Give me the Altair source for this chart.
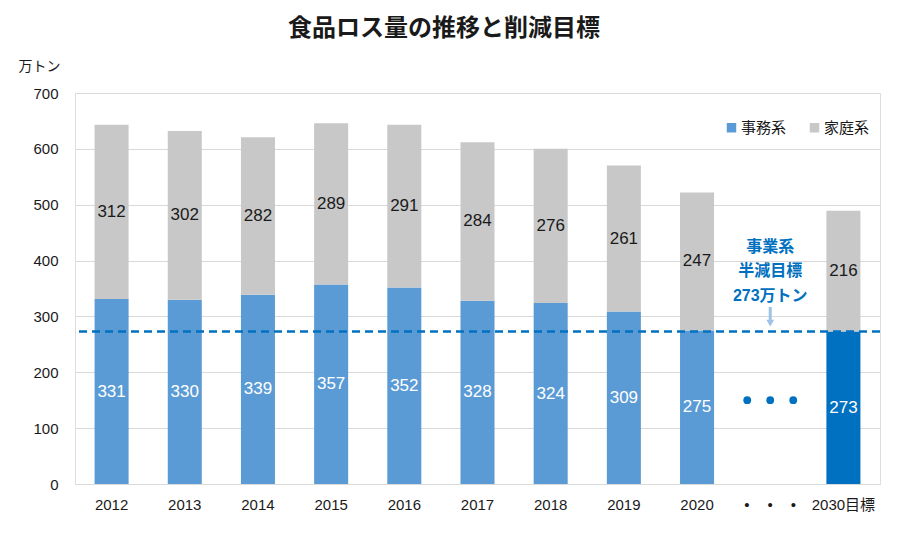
import altair as alt
import pandas as pd

# ---- data ----
categories = ["2012", "2013", "2014", "2015", "2016", "2017", "2018", "2019", "2020", "gap", "2030目標"]
bar_cats = ["2012", "2013", "2014", "2015", "2016", "2017", "2018", "2019", "2020", "2030目標"]
business = [331, 330, 339, 357, 352, 328, 324, 309, 275, 273]   # 事務系
household = [312, 302, 282, 289, 291, 284, 276, 261, 247, 216]  # 家庭系
target_value = 273
dots_value = 150
y_ticks = [0, 100, 200, 300, 400, 500, 600, 700]

FONT = "Liberation Sans, Noto Sans CJK JP, sans-serif"
JP = "Noto Sans CJK JP, sans-serif"
BLUE = "#5B9BD5"
GRAY = "#C8C8C8"
DARK = "#0070C0"

rows = []
for c, b, h in zip(bar_cats, business, household):
    rows.append({"cat": c, "kind": "事務系", "ckey": "目標" if c == "2030目標" else "事務系", "value": b, "ord": 0})
    rows.append({"cat": c, "kind": "家庭系", "ckey": "家庭系", "value": h, "ord": 1})
df = pd.DataFrame(rows)

W, H = 805, 391

xscale = alt.Scale(domain=categories, paddingInner=0.535, paddingOuter=0.2675)
yscale = alt.Scale(domain=[0, 700], nice=False)

x_enc = alt.X("cat:N", scale=xscale, sort=categories, title=None,
              axis=alt.Axis(labelAngle=0, domain=False, ticks=False, tickSize=0, labelPadding=13,
                            labelFontSize=15, labelColor="#1a1a1a", labelFont=FONT,
                            labelExpr="datum.value == 'gap' ? '•\u2003\u2009•\u2003\u2009•' : datum.value"))

bars = alt.Chart(df).mark_bar().encode(
    x=x_enc,
    y=alt.Y("value:Q", stack="zero", scale=yscale, title="万トン",
            axis=alt.Axis(values=y_ticks, domain=False, ticks=False, tickSize=0, labelPadding=17,
                          gridColor="#D9D9D9", gridWidth=1, labelFontSize=15, labelColor="#1a1a1a",
                          labelFont=FONT, titleAngle=0, titleX=-57, titleY=-27, titleAlign="left",
                          titleBaseline="middle", titleFont=JP, titleFontSize=14,
                          titleFontWeight="normal", titleColor="#1a1a1a")),
    color=alt.Color("ckey:N",
                    scale=alt.Scale(domain=["事務系", "家庭系", "目標"], range=[BLUE, GRAY, DARK]),
                    legend=alt.Legend(values=["事務系", "家庭系"], title=None, orient="none",
                                      legendX=649, legendY=27, direction="horizontal",
                                      symbolType="square", symbolSize=90, symbolStrokeWidth=0,
                                      labelFontSize=15, labelFont=JP, labelColor="#1a1a1a",
                                      columnPadding=20, symbolOffset=0, labelOffset=2)),
    order=alt.Order("ord:Q"),
)

labels = alt.Chart(df).transform_stack(
    stack="value", groupby=["cat"], as_=["v0", "v1"], sort=[alt.SortField("ord")]
).transform_calculate(mid="(datum.v0 + datum.v1) / 2").mark_text(
    fontSize=17, font=FONT, baseline="middle"
).encode(
    x=alt.X("cat:N", scale=xscale, sort=categories),
    y=alt.Y("mid:Q", scale=yscale),
    text="value:Q",
    color=alt.condition(alt.datum.kind == "事務系", alt.value("white"), alt.value("#1a1a1a")),
)

target_df = pd.DataFrame({"t": [target_value]})
target = alt.Chart(target_df).mark_rule(color=DARK, strokeWidth=2.5, strokeDash=[8, 5]).encode(
    y=alt.Y("t:Q", scale=yscale))

dot_df = pd.DataFrame({"cat": ["gap"], "v": [dots_value]})
dots = [
    alt.Chart(dot_df).mark_circle(size=60, color=DARK, opacity=1, xOffset=off).encode(
        x=alt.X("cat:N", scale=xscale, sort=categories), y=alt.Y("v:Q", scale=yscale))
    for off in (-23, 0, 23)
]

ann_df = pd.DataFrame({"cat": ["gap"], "v": [425], "txt": ["事業系\n半減目標\n273万トン"]})
ann = alt.Chart(ann_df).mark_text(fontSize=16, fontWeight="bold", font=FONT, color=DARK,
                                  lineBreak="\n", lineHeight=24.5, baseline="middle").encode(
    x=alt.X("cat:N", scale=xscale, sort=categories), y=alt.Y("v:Q", scale=yscale), text="txt:N")

arrow_df = pd.DataFrame({"cat": ["gap"], "y1": [317], "y2": [292], "tip": [288]})
arrow_shaft = alt.Chart(arrow_df).mark_rule(color="#9DC3E6", strokeWidth=3).encode(
    x=alt.X("cat:N", scale=xscale, sort=categories),
    y=alt.Y("y1:Q", scale=yscale), y2="y2:Q")
arrow_head = alt.Chart(arrow_df).mark_point(shape="triangle-down", filled=True, size=60,
                                           color="#9DC3E6", opacity=1).encode(
    x=alt.X("cat:N", scale=xscale, sort=categories), y=alt.Y("tip:Q", scale=yscale))

title = alt.Chart(pd.DataFrame({"t": ["食品ロス量の推移と削減目標"]})).mark_text(
    fontSize=24, fontWeight="bold", font=JP, color="#1a1a1a", baseline="middle"
).encode(x=alt.value(369), y=alt.value(-64), text="t:N")

chart = alt.layer(bars, labels, target, *dots, ann, arrow_shaft, arrow_head, title).properties(
    width=W, height=H,
    autosize=alt.AutoSizeParams(type="none"),
    padding={"left": 67, "top": 85, "right": 12, "bottom": 45},
).configure_view(stroke=None).configure(background="white")

chart.save("out.html", embed_options={"renderer": "svg", "actions": False})
